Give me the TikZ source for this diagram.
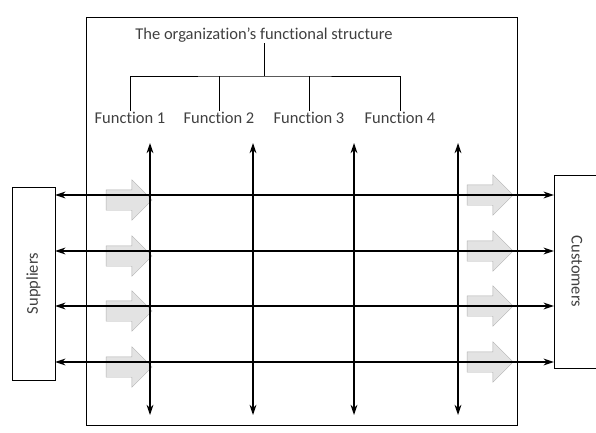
\documentclass[tikz,border=0pt]{standalone}
\usepackage{fontspec}
\setmainfont{Carlito}[Ligatures=NoCommon]
\usepackage{tikz}
\usetikzlibrary{arrows.meta,positioning,shapes.arrows}

\begin{document}
\begin{tikzpicture}[
    x=1pt, y=-1pt,
    lbl/.style={font=\fontsize{16.5}{19}\selectfont, text=black!75, inner sep=1pt},
    sidebox/.style={draw, rectangle, minimum width=43pt},
    flow/.style={{Stealth[length=3.6mm,width=2.4mm]}-{Stealth[length=3.6mm,width=2.4mm]}, line width=1.2pt},
    blockarrow/.style={single arrow, draw=gray!60, fill=gray!22, inner sep=10pt,
                       single arrow head extend=10pt, minimum height=46pt}
]
\useasboundingbox (0,0) rectangle (596,432);

% frame round the organization
\node[draw, rectangle, anchor=north west, minimum width=431pt, minimum height=408pt] (org) at (86,17) {};

% hierarchy
\node[lbl] (title) at (264,35) {The organization's functional structure};
\node[lbl] (f1) at (130,118) {Function 1};
\node[lbl] (f2) at (219,118) {Function 2};
\node[lbl] (f3) at (309,118) {Function 3};
\node[lbl] (f4) at (400,118) {Function 4};
\coordinate (bar) at (264,76);

\draw[thick] (title) -- (bar);
\draw[thick] (f1.north) |- (bar) -| (f4.north);
\draw[thick] (f2.north) -- (f2.north |- bar);
\draw[thick] (f3.north) -- (f3.north |- bar);

% suppliers and customers
\node[sidebox, minimum height=193pt] (sup) at (33.5,283.5) {};
\node[lbl, rotate=90] (suptxt) at (sup.center) {Suppliers};
\node[sidebox, minimum width=46pt, minimum height=193pt] (cus) at (577,271.5) {};
\node[lbl, rotate=-90] (custxt) at (cus.center) {Customers};

% block arrows
\foreach \r [count=\i] in {195,251,306,362} {
    \node[blockarrow] (in\i) at (124,\r+5) {};
    \node[blockarrow] (out\i) at (485,\r) {};
}

% flows between suppliers and customers
\foreach \r [count=\i] in {195,251,306,362} {
    \coordinate (row\i) at (0,\r);
    \draw[flow] (sup.east |- row\i) -- (cus.west |- row\i);
}

% vertical flows
\foreach \x [count=\i] in {150,253,354,458} {
    \coordinate (top\i) at (\x,143);
    \coordinate (bot\i) at (\x,415);
    \draw[flow] (top\i) -- (bot\i);
}
\end{tikzpicture}
\end{document}
